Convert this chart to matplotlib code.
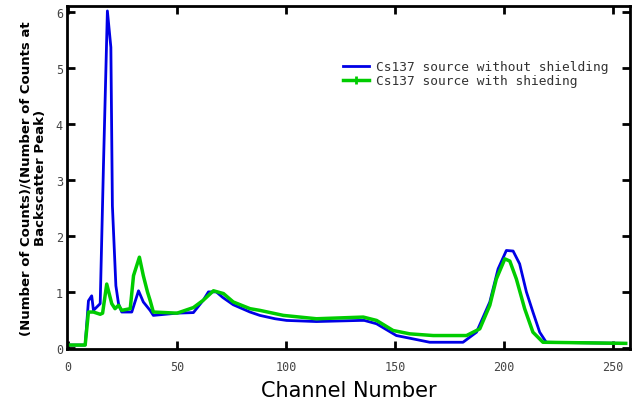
import matplotlib
matplotlib.use("Agg")
import matplotlib.pyplot as plt

# channel / normalised counts
ch_blue = [0, 7.8, 9.3, 10.8, 11.6, 14.7, 16.2, 18.0, 19.6, 20.3, 21.9, 23.1, 24.6,
           29.2, 32.3, 34.5, 37.6, 39.1, 50, 57.5, 62, 64.4, 68, 71, 75.8, 83.5,
           88, 95, 100.3, 114, 134, 136, 141.6, 150.7, 158.4, 166, 181.3, 187.5,
           193.6, 197.4, 201.2, 204.3, 207.3, 210.4, 213.4, 216.5, 219.5, 256]
val_blue = [0.05, 0.05, 0.84, 0.93, 0.67, 0.79, 3.26, 6.02, 5.37, 2.54, 1.11, 0.79, 0.64,
            0.64, 1.02, 0.82, 0.67, 0.58, 0.62, 0.63, 0.85, 1.0, 1.0, 0.9, 0.77, 0.64,
            0.58, 0.52, 0.49, 0.47, 0.49, 0.49, 0.43, 0.22, 0.16, 0.10, 0.10, 0.28,
            0.82, 1.41, 1.74, 1.73, 1.5, 1.0, 0.64, 0.28, 0.10, 0.08]

ch_green = [0, 7.8, 9.3, 11.6, 14.7, 15.8, 17.7, 20.0, 21.5, 23.1, 24.6, 28.5, 30,
            32.7, 34.5, 36.4, 37.6, 39.1, 50, 57.5, 62, 66.7, 71.3, 75.8, 83.5, 88,
            98.8, 114, 135.5, 141.6, 149.2, 156.9, 167.6, 182.9, 189, 193.6, 196.6,
            200.5, 202.8, 205.8, 209.6, 213.4, 218, 256]
val_green = [0.05, 0.05, 0.64, 0.64, 0.6, 0.62, 1.14, 0.79, 0.7, 0.76, 0.67, 0.7, 1.29,
             1.62, 1.29, 1.0, 0.85, 0.64, 0.62, 0.72, 0.85, 1.02, 0.97, 0.82, 0.70, 0.67,
             0.58, 0.52, 0.55, 0.49, 0.31, 0.25, 0.22, 0.22, 0.34, 0.76, 1.23,
             1.59, 1.55, 1.23, 0.70, 0.28, 0.10, 0.08]

labels = ["Cs137 source without shielding", "Cs137 source with shieding"]

fig = plt.figure(figsize=(6.39, 4.06), dpi=100)
ax = fig.add_axes([0.105, 0.138, 0.881, 0.845])

ax.plot(ch_blue, val_blue, color="#0000e6", lw=2, label=labels[0])
ax.plot(ch_green, val_green, color="#00cc00", lw=2.5, label=labels[1])

ax.set_xlim(-0.5, 258)
ax.set_ylim(-0.02, 6.11)
ax.set_xticks(range(0, 251, 50))
ax.set_yticks(range(0, 7))

for s in ax.spines.values():
    s.set_linewidth(2)
ax.tick_params(direction="in", top=True, right=True, length=6, width=2,
               labelsize=8.5, pad=8)
for lab in ax.get_xticklabels() + ax.get_yticklabels():
    lab.set_family("DejaVu Sans Mono")
    lab.set_color("#444444")
ax.tick_params(axis="y", pad=3)

ax.set_xlabel("Channel Number", fontsize=15, labelpad=5)
ax.set_ylabel("(Number of Counts)/(Number of Counts at\nBackscatter Peak)",
              fontsize=9.5, fontweight="bold", labelpad=6)

h = [plt.Line2D([], [], color="#0000e6", lw=2),
     plt.Line2D([], [], color="#00cc00", lw=2.5, marker="|", markersize=6,
                markeredgewidth=2)]
leg = ax.legend(h, labels, loc="upper left", bbox_to_anchor=(0.47, 0.875), frameon=False,
                prop={"family": "DejaVu Sans Mono", "size": 9.3}, handlelength=2,
                handletextpad=0.5, labelspacing=0.05)
for t in leg.get_texts():
    t.set_color("#333333")

fig.savefig("out.png", dpi=100)
